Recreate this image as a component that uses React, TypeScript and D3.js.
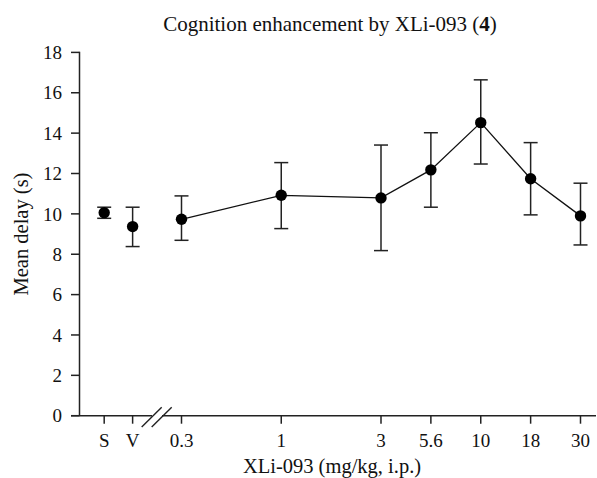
import React from "react";
import * as d3 from "d3";

const labels = ["S", "V", "0.3", "1", "3", "5.6", "10", "18", "30"];
const slots = [-1.55, -0.98, 0, 2, 4, 5, 6, 7, 8];
const means = [10.06, 9.37, 9.73, 10.92, 10.79, 12.18, 14.52, 11.74, 9.9];
const upper = [10.33, 10.33, 10.89, 12.54, 13.41, 14.02, 16.64, 13.53, 11.52];
const lower = [9.78, 8.38, 8.69, 9.27, 8.18, 10.33, 12.47, 9.95, 8.46];
const yTicks = [0, 2, 4, 6, 8, 10, 12, 14, 16, 18];
const connected = [2, 3, 4, 5, 6, 7, 8];

const W = 597;
const H = 478;
const FONT = "'Liberation Serif', 'Times New Roman', serif";

export default function App() {
  const x = d3.scaleLinear().domain([0, 8]).range([181.5, 580.5]);
  const y = d3.scaleLinear().domain([0, 18]).range([415.7, 52.4]);
  const axisX = 79.5;
  const axisY = y(0);

  const line = d3
    .line<number>()
    .x((i) => x(slots[i]))
    .y((i) => y(means[i]));

  const capW = 7;

  return (
    <svg
      width={W}
      height={H}
      style={{ position: "absolute", left: 0, top: 0, background: "#fff" }}
      fontFamily={FONT}
    >
      <rect width={W} height={H} fill="#fff" />
      <text x={330} y={31} textAnchor="middle" fontSize={21} fill="#111">
        Cognition enhancement by XLi-093 (<tspan fontWeight="bold">4</tspan>)
      </text>

      <line x1={axisX} x2={axisX} y1={y(18) - 0.7} y2={axisY} stroke="#222" strokeWidth={1.5} />
      {yTicks.map((t) => (
        <g key={t}>
          <line x1={71} x2={axisX} y1={y(t)} y2={y(t)} stroke="#222" strokeWidth={1.5} />
          <text x={62} y={y(t)} dy="0.35em" textAnchor="end" fontSize={19} fill="#111">
            {t}
          </text>
        </g>
      ))}
      <text
        transform={`translate(21,${(y(0) + y(18)) / 2}) rotate(-90)`}
        textAnchor="middle"
        dy="0.35em"
        fontSize={20.5}
        fill="#111"
      >
        Mean delay (s)
      </text>

      <line x1={71} x2={152} y1={axisY} y2={axisY} stroke="#222" strokeWidth={1.5} />
      <line x1={162} x2={596} y1={axisY} y2={axisY} stroke="#222" strokeWidth={1.5} />
      <line x1={141.7} y1={427} x2={161.7} y2={407.3} stroke="#222" strokeWidth={1.4} />
      <line x1={151.7} y1={427} x2={171.7} y2={407.3} stroke="#222" strokeWidth={1.4} />
      {labels.map((l, i) => (
        <g key={l}>
          <line x1={x(slots[i])} x2={x(slots[i])} y1={axisY} y2={axisY + 8} stroke="#222" strokeWidth={1.5} />
          <text x={x(slots[i])} y={446.7} textAnchor="middle" fontSize={19} fill="#111">
            {l}
          </text>
        </g>
      ))}
      <text x={332} y={473} textAnchor="middle" fontSize={20.5} fill="#111">
        XLi-093 (mg/kg, i.p.)
      </text>

      <path d={line(connected) || ""} fill="none" stroke="#111" strokeWidth={1.3} />

      {labels.map((l, i) => {
        const cx = x(slots[i]);
        return (
          <g key={"e" + l} stroke="#222" strokeWidth={1.5}>
            <line x1={cx} x2={cx} y1={y(upper[i])} y2={y(lower[i])} />
            <line x1={cx - capW} x2={cx + capW} y1={y(upper[i])} y2={y(upper[i])} />
            <line x1={cx - capW} x2={cx + capW} y1={y(lower[i])} y2={y(lower[i])} />
          </g>
        );
      })}

      {labels.map((l, i) => (
        <circle key={"p" + l} cx={x(slots[i])} cy={y(means[i])} r={5.7} fill="#000" />
      ))}
    </svg>
  );
}
